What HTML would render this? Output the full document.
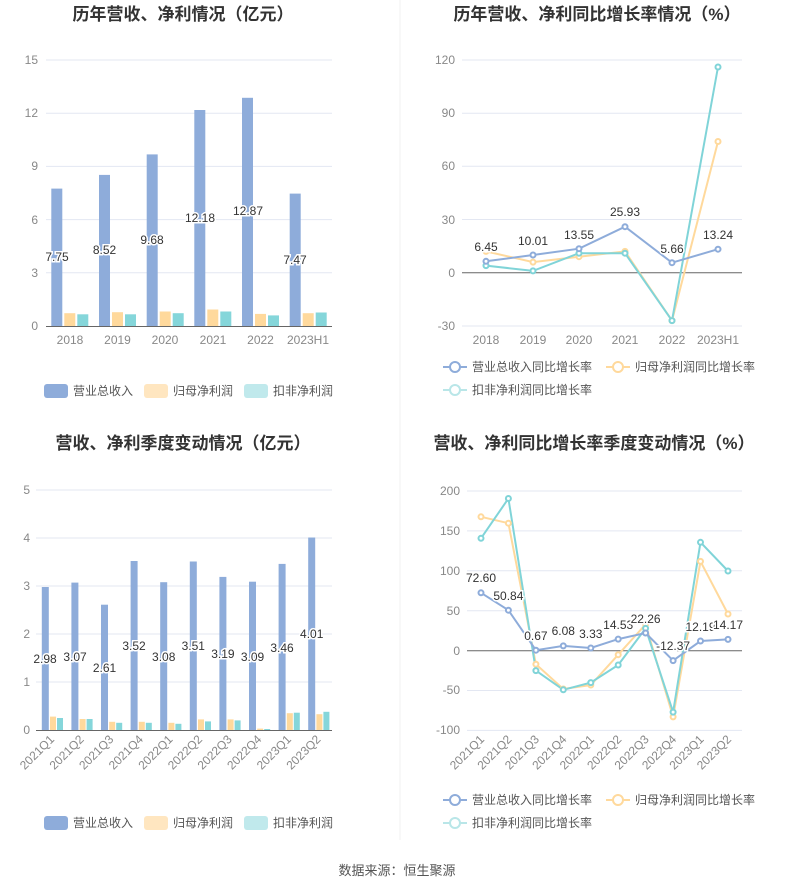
<!DOCTYPE html>
<html><head><meta charset="utf-8"><style>
body{margin:0;background:#fff}
svg{font-family:"Liberation Sans","Noto Sans CJK SC",sans-serif}
.t{font-size:17px;font-weight:bold;fill:#333;text-anchor:middle}
.ax{font-size:12px;fill:#888}
.g{stroke:#e3e7f2;stroke-width:1}
.lb{font-size:12px;fill:#333;stroke:#fff;stroke-width:3;paint-order:stroke;text-anchor:middle}
.lg{font-size:12px;fill:#555}
</style></head><body>
<svg width="794" height="891" viewBox="0 0 794 891">
<line x1="400" y1="0" x2="400" y2="840" stroke="#f0f0f0"/>
<!-- Chart 1 -->
<text class="t" x="183" y="20">历年营收、净利情况（亿元）</text>
<g class="g"><line x1="46" y1="60" x2="332" y2="60"/><line x1="46" y1="113.2" x2="332" y2="113.2"/><line x1="46" y1="166.4" x2="332" y2="166.4"/><line x1="46" y1="219.6" x2="332" y2="219.6"/><line x1="46" y1="272.8" x2="332" y2="272.8"/></g>
<line x1="46" y1="326.5" x2="332" y2="326.5" stroke="#666"/>
<g class="ax" text-anchor="end"><text x="38" y="64">15</text><text x="38" y="117">12</text><text x="38" y="170">9</text><text x="38" y="224">6</text><text x="38" y="277">3</text><text x="38" y="330">0</text></g>
<g class="ax" text-anchor="middle"><text x="70" y="344">2018</text><text x="117.5" y="344">2019</text><text x="165" y="344">2020</text><text x="213" y="344">2021</text><text x="260.5" y="344">2022</text><text x="308" y="344">2023H1</text></g>
<g fill="#8eacda">
<rect x="51.3" y="188.6" width="11" height="137.4"/><rect x="99" y="174.9" width="11" height="151.1"/><rect x="146.7" y="154.4" width="11" height="171.6"/><rect x="194.3" y="110" width="11" height="216"/><rect x="242" y="97.8" width="11" height="228.2"/><rect x="289.7" y="193.6" width="11" height="132.4"/></g>
<g fill="#ffd99c">
<rect x="64.3" y="313.2" width="11" height="12.8"/><rect x="112" y="312.2" width="11" height="13.8"/><rect x="159.7" y="311.5" width="11" height="14.5"/><rect x="207.3" y="309.5" width="11" height="16.5"/><rect x="255" y="313.9" width="11" height="12.1"/><rect x="302.7" y="313.2" width="11" height="12.8"/></g>
<g fill="#85d6da">
<rect x="77.3" y="314.3" width="11" height="11.7"/><rect x="125" y="314.3" width="11" height="11.7"/><rect x="172.7" y="313.2" width="11" height="12.8"/><rect x="220.3" y="311.5" width="11" height="14.5"/><rect x="268" y="315.4" width="11" height="10.6"/><rect x="315.7" y="312.5" width="11" height="13.5"/></g>
<g class="lb"><text x="57" y="261">7.75</text><text x="104.5" y="254">8.52</text><text x="152" y="244">9.68</text><text x="200" y="222">12.18</text><text x="248" y="215">12.87</text><text x="295" y="264">7.47</text></g>
<rect x="44" y="384" width="24" height="14" rx="3" fill="#8eacda"/><text class="lg" x="73" y="395">营业总收入</text>
<rect x="144" y="384" width="24" height="14" rx="3" fill="#ffe6c0"/><text class="lg" x="173" y="395">归母净利润</text>
<rect x="244" y="384" width="24" height="14" rx="3" fill="#c0e9ec"/><text class="lg" x="273" y="395">扣非净利润</text>
<!-- Chart 2 -->
<text class="t" x="597" y="20">历年营收、净利同比增长率情况（%）</text>
<g class="g"><line x1="462" y1="60" x2="742" y2="60"/><line x1="462" y1="113.2" x2="742" y2="113.2"/><line x1="462" y1="166.3" x2="742" y2="166.3"/><line x1="462" y1="219.5" x2="742" y2="219.5"/><line x1="462" y1="326" x2="742" y2="326"/></g>
<line x1="462" y1="272.7" x2="742" y2="272.7" stroke="#666"/>
<g class="ax" text-anchor="end"><text x="455" y="64">120</text><text x="455" y="117">90</text><text x="455" y="170">60</text><text x="455" y="224">30</text><text x="455" y="277">0</text><text x="455" y="330">-30</text></g>
<g class="ax" text-anchor="middle"><text x="486" y="344">2018</text><text x="533" y="344">2019</text><text x="579" y="344">2020</text><text x="625" y="344">2021</text><text x="672" y="344">2022</text><text x="718" y="344">2023H1</text></g>
<g fill="#fff" stroke-width="2">
<polyline fill="none" stroke="#ffd99c" points="486,251.4 533,262.1 579,256.7 625,251.4 672,320.6 718,141.5"/>
<polyline fill="none" stroke="#80d4d8" points="486,265.6 533,270.9 579,253.2 625,253.2 672,320.6 718,67"/>
<polyline fill="none" stroke="#8eacda" points="486,261.3 533,255 579,248.7 625,226.7 672,262.7 718,249.2"/>
<g stroke="#ffd99c"><circle cx="486" cy="251.4" r="2.5"/><circle cx="533" cy="262.1" r="2.5"/><circle cx="579" cy="256.7" r="2.5"/><circle cx="625" cy="251.4" r="2.5"/><circle cx="672" cy="320.6" r="2.5"/><circle cx="718" cy="141.5" r="2.5"/></g>
<g stroke="#80d4d8"><circle cx="486" cy="265.6" r="2.5"/><circle cx="533" cy="270.9" r="2.5"/><circle cx="579" cy="253.2" r="2.5"/><circle cx="625" cy="253.2" r="2.5"/><circle cx="672" cy="320.6" r="2.5"/><circle cx="718" cy="67" r="2.5"/></g>
<g stroke="#8eacda"><circle cx="486" cy="261.3" r="2.5"/><circle cx="533" cy="255" r="2.5"/><circle cx="579" cy="248.7" r="2.5"/><circle cx="625" cy="226.7" r="2.5"/><circle cx="672" cy="262.7" r="2.5"/><circle cx="718" cy="249.2" r="2.5"/></g>
</g>
<g class="lb"><text x="486" y="251">6.45</text><text x="533" y="245">10.01</text><text x="579" y="239">13.55</text><text x="625" y="216">25.93</text><text x="672" y="253">5.66</text><text x="718" y="239">13.24</text></g>
<g stroke-width="2" fill="#fff">
<line x1="443" y1="367" x2="467" y2="367" stroke="#8eacda"/><circle cx="455" cy="367" r="5" stroke="#8eacda"/>
<line x1="606" y1="367" x2="630" y2="367" stroke="#ffd99c"/><circle cx="618" cy="367" r="5" stroke="#ffd99c"/>
<line x1="443" y1="390" x2="467" y2="390" stroke="#b9e6e8"/><circle cx="455" cy="390" r="5" stroke="#b9e6e8"/></g>
<text class="lg" x="472" y="371">营业总收入同比增长率</text><text class="lg" x="635" y="371" fill="#999">归母净利润同比增长率</text><text class="lg" x="472" y="394" fill="#999">扣非净利润同比增长率</text>
<!-- Chart 3 -->
<text class="t" x="183" y="449">营收、净利季度变动情况（亿元）</text>
<g class="g"><line x1="36" y1="490" x2="332" y2="490"/><line x1="36" y1="538" x2="332" y2="538"/><line x1="36" y1="586" x2="332" y2="586"/><line x1="36" y1="634" x2="332" y2="634"/><line x1="36" y1="682" x2="332" y2="682"/></g>
<line x1="36" y1="730.5" x2="332" y2="730.5" stroke="#666"/>
<g class="ax" text-anchor="end"><text x="30" y="494">5</text><text x="30" y="542">4</text><text x="30" y="590">3</text><text x="30" y="638">2</text><text x="30" y="686">1</text><text x="30" y="734">0</text></g>
<g class="ax" text-anchor="end">
<text transform="translate(55,740) rotate(-45)">2021Q1</text><text transform="translate(84.6,740) rotate(-45)">2021Q2</text><text transform="translate(114.2,740) rotate(-45)">2021Q3</text><text transform="translate(143.8,740) rotate(-45)">2021Q4</text><text transform="translate(173.4,740) rotate(-45)">2022Q1</text><text transform="translate(203,740) rotate(-45)">2022Q2</text><text transform="translate(232.6,740) rotate(-45)">2022Q3</text><text transform="translate(262.2,740) rotate(-45)">2022Q4</text><text transform="translate(291.8,740) rotate(-45)">2023Q1</text><text transform="translate(321.4,740) rotate(-45)">2023Q2</text></g>
<g fill="#8eacda">
<rect x="41.8" y="587" width="7" height="143"/><rect x="71.4" y="582.6" width="7" height="147.4"/><rect x="101" y="604.7" width="7" height="125.3"/><rect x="130.6" y="561" width="7" height="169"/><rect x="160.2" y="582.2" width="7" height="147.8"/><rect x="189.8" y="561.5" width="7" height="168.5"/><rect x="219.4" y="576.9" width="7" height="153.1"/><rect x="249" y="581.7" width="7" height="148.3"/><rect x="278.6" y="563.9" width="7" height="166.1"/><rect x="308.2" y="537.5" width="7" height="192.5"/></g>
<g fill="#ffd99c">
<rect x="50" y="716.6" width="6" height="13.4"/><rect x="79.6" y="719" width="6" height="11"/><rect x="109.2" y="721.8" width="6" height="8.2"/><rect x="138.8" y="721.8" width="6" height="8.2"/><rect x="168.4" y="722.8" width="6" height="7.2"/><rect x="198" y="719.4" width="6" height="10.6"/><rect x="227.6" y="719.4" width="6" height="10.6"/><rect x="257.2" y="728.6" width="6" height="1.4"/><rect x="286.8" y="713.2" width="6" height="16.8"/><rect x="316.4" y="714.2" width="6" height="15.8"/></g>
<g fill="#85d6da">
<rect x="57" y="718" width="6" height="12"/><rect x="86.6" y="719" width="6" height="11"/><rect x="116.2" y="722.8" width="6" height="7.2"/><rect x="145.8" y="722.8" width="6" height="7.2"/><rect x="175.4" y="723.8" width="6" height="6.2"/><rect x="205" y="721.4" width="6" height="8.6"/><rect x="234.6" y="720.4" width="6" height="9.6"/><rect x="264.2" y="729" width="6" height="1"/><rect x="293.8" y="712.7" width="6" height="17.3"/><rect x="323.4" y="711.8" width="6" height="18.2"/></g>
<g class="lb"><text x="45" y="663">2.98</text><text x="75" y="661">3.07</text><text x="104.5" y="672">2.61</text><text x="134" y="650">3.52</text><text x="163.7" y="661">3.08</text><text x="193.3" y="650">3.51</text><text x="222.9" y="658">3.19</text><text x="252.5" y="661">3.09</text><text x="282" y="652">3.46</text><text x="311.7" y="638">4.01</text></g>
<rect x="44" y="816" width="24" height="14" rx="3" fill="#8eacda"/><text class="lg" x="73" y="827">营业总收入</text>
<rect x="144" y="816" width="24" height="14" rx="3" fill="#ffe6c0"/><text class="lg" x="173" y="827">归母净利润</text>
<rect x="244" y="816" width="24" height="14" rx="3" fill="#c0e9ec"/><text class="lg" x="273" y="827">扣非净利润</text>
<!-- Chart 4 -->
<text class="t" x="594" y="449">营收、净利同比增长率季度变动情况（%）</text>
<g class="g"><line x1="467" y1="491" x2="742" y2="491"/><line x1="467" y1="530.9" x2="742" y2="530.9"/><line x1="467" y1="570.8" x2="742" y2="570.8"/><line x1="467" y1="610.8" x2="742" y2="610.8"/><line x1="467" y1="690.5" x2="742" y2="690.5"/><line x1="467" y1="730.4" x2="742" y2="730.4"/></g>
<line x1="467" y1="650.7" x2="742" y2="650.7" stroke="#666"/>
<g class="ax" text-anchor="end"><text x="460" y="495">200</text><text x="460" y="535">150</text><text x="460" y="575">100</text><text x="460" y="615">50</text><text x="460" y="655">0</text><text x="460" y="694">-50</text><text x="460" y="734">-100</text></g>
<g class="ax" text-anchor="end">
<text transform="translate(485,740) rotate(-45)">2021Q1</text><text transform="translate(512.4,740) rotate(-45)">2021Q2</text><text transform="translate(539.9,740) rotate(-45)">2021Q3</text><text transform="translate(567.3,740) rotate(-45)">2021Q4</text><text transform="translate(594.8,740) rotate(-45)">2022Q1</text><text transform="translate(622.2,740) rotate(-45)">2022Q2</text><text transform="translate(649.6,740) rotate(-45)">2022Q3</text><text transform="translate(677.1,740) rotate(-45)">2022Q4</text><text transform="translate(704.5,740) rotate(-45)">2023Q1</text><text transform="translate(732,740) rotate(-45)">2023Q2</text></g>
<g fill="#fff" stroke-width="2">
<polyline fill="none" stroke="#ffd99c" points="481,516.8 508.4,523.2 535.9,664.2 563.3,689 590.8,685 618.2,654.7 645.6,624.4 673.1,716.9 700.5,561.4 728,614"/>
<polyline fill="none" stroke="#80d4d8" points="481,538.3 508.4,498.5 535.9,670.6 563.3,689.8 590.8,682.6 618.2,665 645.6,628.4 673.1,712.1 700.5,542.3 728,571"/>
<polyline fill="none" stroke="#8eacda" points="481,592.8 508.4,610.2 535.9,650.2 563.3,645.9 590.8,648 618.2,639.1 645.6,633 673.1,660.6 700.5,641 728,639.4"/>
<g stroke="#ffd99c"><circle cx="481" cy="516.8" r="2.5"/><circle cx="508.4" cy="523.2" r="2.5"/><circle cx="535.9" cy="664.2" r="2.5"/><circle cx="563.3" cy="689" r="2.5"/><circle cx="590.8" cy="685" r="2.5"/><circle cx="618.2" cy="654.7" r="2.5"/><circle cx="645.6" cy="624.4" r="2.5"/><circle cx="673.1" cy="716.9" r="2.5"/><circle cx="700.5" cy="561.4" r="2.5"/><circle cx="728" cy="614" r="2.5"/></g>
<g stroke="#80d4d8"><circle cx="481" cy="538.3" r="2.5"/><circle cx="508.4" cy="498.5" r="2.5"/><circle cx="535.9" cy="670.6" r="2.5"/><circle cx="563.3" cy="689.8" r="2.5"/><circle cx="590.8" cy="682.6" r="2.5"/><circle cx="618.2" cy="665" r="2.5"/><circle cx="645.6" cy="628.4" r="2.5"/><circle cx="673.1" cy="712.1" r="2.5"/><circle cx="700.5" cy="542.3" r="2.5"/><circle cx="728" cy="571" r="2.5"/></g>
<g stroke="#8eacda"><circle cx="481" cy="592.8" r="2.5"/><circle cx="508.4" cy="610.2" r="2.5"/><circle cx="535.9" cy="650.2" r="2.5"/><circle cx="563.3" cy="645.9" r="2.5"/><circle cx="590.8" cy="648" r="2.5"/><circle cx="618.2" cy="639.1" r="2.5"/><circle cx="645.6" cy="633" r="2.5"/><circle cx="673.1" cy="660.6" r="2.5"/><circle cx="700.5" cy="641" r="2.5"/><circle cx="728" cy="639.4" r="2.5"/></g>
</g>
<g class="lb"><text x="481" y="582">72.60</text><text x="508.4" y="600">50.84</text><text x="535.9" y="640">0.67</text><text x="563.3" y="635">6.08</text><text x="590.8" y="638">3.33</text><text x="618.2" y="629">14.53</text><text x="645.6" y="623">22.26</text><text x="673.1" y="650">-12.37</text><text x="700.5" y="631">12.19</text><text x="728" y="629">14.17</text></g>
<g stroke-width="2" fill="#fff">
<line x1="443" y1="800" x2="467" y2="800" stroke="#8eacda"/><circle cx="455" cy="800" r="5" stroke="#8eacda"/>
<line x1="606" y1="800" x2="630" y2="800" stroke="#ffd99c"/><circle cx="618" cy="800" r="5" stroke="#ffd99c"/>
<line x1="443" y1="823" x2="467" y2="823" stroke="#b9e6e8"/><circle cx="455" cy="823" r="5" stroke="#b9e6e8"/></g>
<text class="lg" x="472" y="804">营业总收入同比增长率</text><text class="lg" x="635" y="804" fill="#999">归母净利润同比增长率</text><text class="lg" x="472" y="827" fill="#999">扣非净利润同比增长率</text>
<text x="397" y="875" text-anchor="middle" font-size="13" fill="#555">数据来源：恒生聚源</text>
</svg>
</body></html>
